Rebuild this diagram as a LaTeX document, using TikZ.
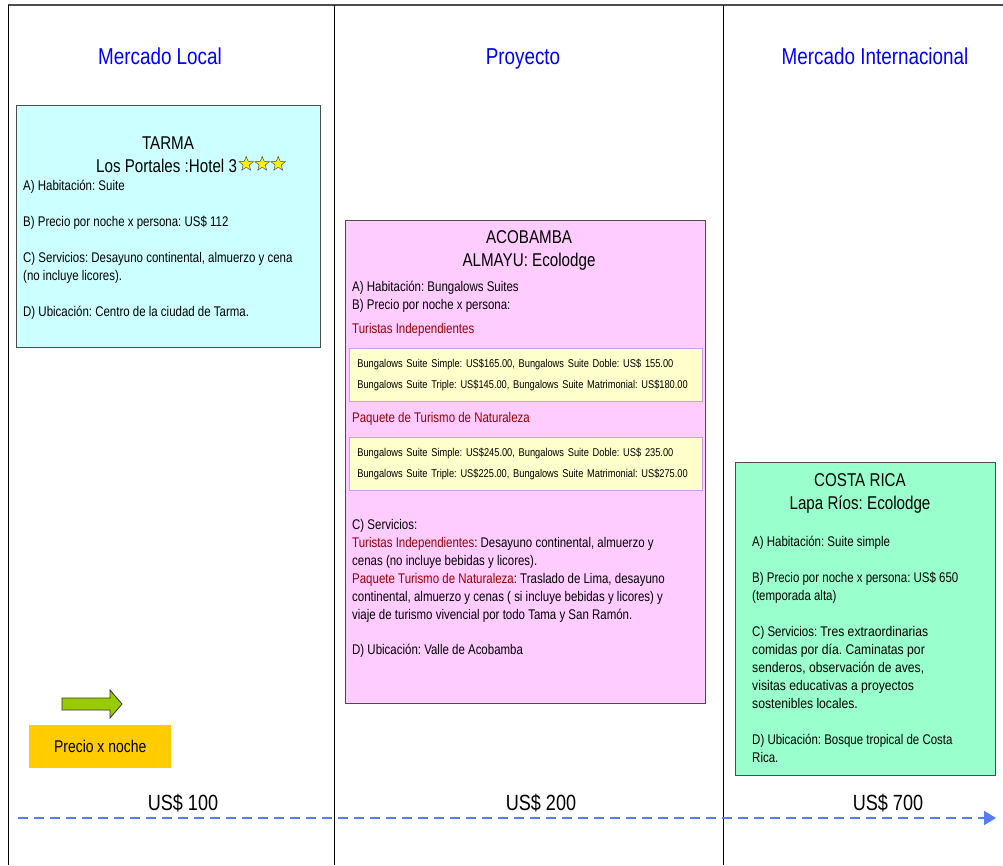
\documentclass[tikz,border=0pt]{standalone}
\usepackage{fontspec}
\setmainfont{Liberation Sans}[FakeStretch=0.82]
\newfontfamily\wideface{Liberation Sans}[FakeStretch=0.87]
\usetikzlibrary{shapes.geometric,arrows.meta}
\frenchspacing

\definecolor{headblue}{RGB}{0,0,255}
\definecolor{tarmafill}{RGB}{204,255,255}
\definecolor{acofill}{RGB}{255,204,255}
\definecolor{costafill}{RGB}{153,255,204}
\definecolor{pricefill}{RGB}{255,255,204}
\definecolor{priceline}{RGB}{204,153,255}
\definecolor{darkred}{RGB}{153,0,0}
\definecolor{arrowgreen}{RGB}{153,204,0}
\definecolor{labelgold}{RGB}{255,204,0}
\definecolor{axisblue}{RGB}{85,125,250}

\tikzset{
  heading/.style={text=headblue, font=\fontsize{23}{27}\selectfont, anchor=base},
  infobox/.style={draw=black!70, line width=1pt, anchor=north west, inner sep=0pt},
  title/.style={font=\fontsize{18.5}{22}\selectfont, anchor=base},
  body/.style={font=\fontsize{14}{18}\selectfont, anchor=north west, align=left, inner sep=0pt},
  pricebox/.style={infobox, fill=pricefill, draw=priceline, line width=0.8pt,
    font=\fontsize{11.3}{21}\selectfont, align=left, text width=337pt,
    inner xsep=8pt, inner ysep=0pt, minimum height=53pt},
  price/.style={font=\fontsize{22}{26}\selectfont, anchor=base},
  hotelstar/.style={star, star points=5, star point ratio=2.3, fill=yellow,
    draw=black!70, line width=0.5pt, minimum size=15pt, inner sep=0pt},
}

\begin{document}
\begin{tikzpicture}[x=1pt, y=-1pt]
    \useasboundingbox (0,0) rectangle (1003,865);

    % Columns
    \draw[black!70, line width=2pt] (8,5) -- (1003,5);
    \foreach \x in {8,334,723}
        \draw[line width=1pt] (\x,5) -- (\x,865);

    % Headings
    \node[heading] (local) at (160,64) {Mercado Local};
    \node[heading] (proyecto) at (523,64) {Proyecto};
    \node[heading] (intl) at (875,64) {Mercado Internacional};

    % Tarma
    \node[infobox, fill=tarmafill, minimum width=304pt, minimum height=242pt] (tarma) at (16,105) {};
    \node[title] (tarmatitle) at (168,149) {TARMA};
    \node[title, anchor=base west, inner sep=0pt] (hotel) at (96,172) {Los Portales :Hotel 3};
    \foreach \i in {0,1,2}
        \node[hotelstar] (star\i) at ([xshift={9+16*\i}, yshift=8]hotel.base east) {};
    \node[body] (tarmatext) at (23,180) {A) Habitación: Suite\\[18pt]
        B) Precio por noche x persona: US\$ 112\\[18pt]
        C) Servicios: Desayuno continental, almuerzo y cena\\
        (no incluye licores).\\[18pt]
        D) Ubicación: Centro de la ciudad de Tarma.};

    % Acobamba
    \node[infobox, fill=acofill, minimum width=360pt, minimum height=483pt] (acobamba) at (345,220) {};
    \node[title] (acotitle) at (529,243) {ACOBAMBA};
    \node[title] (almayu) at (529,266) {ALMAYU: Ecolodge};
    \node[body] (acotext) at (352,281) {A) Habitación: Bungalows Suites\\
        B) Precio por noche x persona:};
    \node[body, text=darkred] (indep) at (352,323) {Turistas Independientes};
    \node[pricebox] (indepbox) at (349,348) {Bungalows Suite Simple: US\$165.00, Bungalows Suite Doble: US\$ 155.00\\
        Bungalows Suite Triple: US\$145.00, Bungalows Suite Matrimonial: US\$180.00};
    \node[body, text=darkred] (natur) at (352,412) {Paquete de Turismo de Naturaleza};
    \node[pricebox] (naturbox) at (349,437) {Bungalows Suite Simple: US\$245.00, Bungalows Suite Doble: US\$ 235.00\\
        Bungalows Suite Triple: US\$225.00, Bungalows Suite Matrimonial: US\$275.00};
    \node[body] (acoserv) at (352,519) {C) Servicios:\\
        \textcolor{darkred}{Turistas Independientes}: Desayuno continental, almuerzo y\\
        cenas (no incluye bebidas y licores).\\
        \textcolor{darkred}{Paquete Turismo de Naturaleza}: Traslado de Lima, desayuno\\
        continental, almuerzo y cenas ( si incluye bebidas y licores) y\\
        viaje de turismo vivencial por todo Tama y San Ramón.\\[17pt]
        D) Ubicación: Valle de Acobamba};

    % Costa Rica
    \node[infobox, fill=costafill, minimum width=260pt, minimum height=313pt] (costa) at (735,462) {};
    \node[title] (costatitle) at (860,486) {COSTA RICA};
    \node[title] (lapa) at (860,509) {Lapa Ríos: Ecolodge};
    \node[body] (costatext) at (752,536) {A) Habitación: Suite simple\\[18pt]
        B) Precio por noche x persona: US\$ 650\\
        (temporada alta)\\[18pt]
        C) Servicios: {\wideface Tres extraordinarias}\\
        {\wideface comidas por día. Caminatas por}\\
        {\wideface senderos, observación de aves,}\\
        {\wideface visitas educativas a proyectos}\\
        {\wideface sostenibles locales.}\\[18pt]
        D) Ubicación: Bosque tropical de Costa\\
        Rica.};

    % Price marker
    \draw[fill=arrowgreen, draw=black!80, line width=0.8pt] (62,698) -- (110,698) -- (110,690)
        -- (122,704) -- (110,718) -- (110,710) -- (62,710) -- cycle;
    \node[fill=labelgold, minimum width=142pt, minimum height=43pt, anchor=north west,
        font=\fontsize{17}{20}\selectfont] (precio) at (29,725) {Precio x noche};

    % Price axis
    \node[price] (p100) at (183,810) {US\$ 100};
    \node[price] (p200) at (541,810) {US\$ 200};
    \node[price] (p700) at (888,810) {US\$ 700};
    \coordinate (axisstart) at (18,818);
    \coordinate (axisend) at (996,818);
    \draw[axisblue, line width=2pt, dash pattern=on 10pt off 6pt,
        -{Triangle[length=12pt, width=14pt]}] (axisstart) -- (axisend);

\end{tikzpicture}
\end{document}
